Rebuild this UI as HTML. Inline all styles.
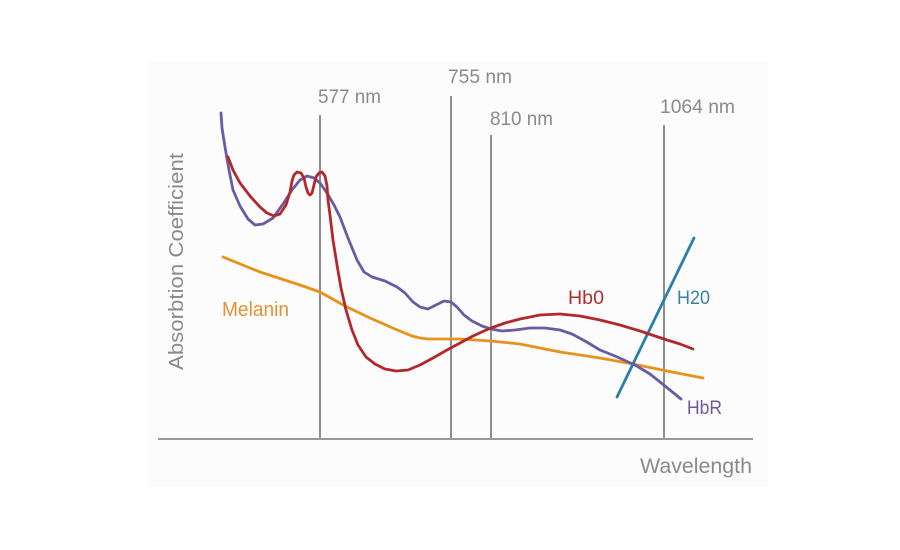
<!DOCTYPE html>
<html><head><meta charset="utf-8"><style>
html,body{margin:0;padding:0;background:#fff;}
svg{display:block;}
text{font-family:"Liberation Sans",sans-serif;}
</style></head><body>
<svg width="900" height="550" viewBox="0 0 900 550" xmlns="http://www.w3.org/2000/svg">
<rect x="0" y="0" width="900" height="550" fill="#ffffff"/>
<rect x="148" y="61" width="620" height="426" fill="#fcfcfc"/>
<!-- vertical lines -->
<g stroke="#8e8e8e" stroke-width="2">
<line x1="320" y1="115" x2="320" y2="439"/>
<line x1="451" y1="96" x2="451" y2="439"/>
<line x1="491" y1="135" x2="491" y2="439"/>
<line x1="664" y1="125" x2="664" y2="439"/>
</g>
<line x1="158" y1="439" x2="753" y2="439" stroke="#999" stroke-width="2"/>
<!-- labels -->
<g fill="#8a8a8a" font-size="19">
<text x="318" y="103" textLength="63" lengthAdjust="spacingAndGlyphs">577 nm</text>
<text x="448" y="83" textLength="64" lengthAdjust="spacingAndGlyphs">755 nm</text>
<text x="490" y="125" textLength="63" lengthAdjust="spacingAndGlyphs">810 nm</text>
<text x="660" y="113" textLength="75" lengthAdjust="spacingAndGlyphs">1064 nm</text>
<text x="640" y="473" font-size="21" textLength="112" lengthAdjust="spacingAndGlyphs">Wavelength</text>
<text transform="translate(183,370) rotate(-90)" font-size="20" textLength="217" lengthAdjust="spacingAndGlyphs">Absorbtion Coefficient</text>
</g>
<text x="222" y="316" font-size="20" fill="#e39232" textLength="67" lengthAdjust="spacingAndGlyphs">Melanin</text>
<text x="568" y="304" font-size="19" fill="#b02e2e" textLength="36" lengthAdjust="spacingAndGlyphs">Hb0</text>
<text x="677" y="304" font-size="19" fill="#3a80a2" textLength="33" lengthAdjust="spacingAndGlyphs">H20</text>
<text x="687" y="414" font-size="19" fill="#6a5a9c" textLength="35" lengthAdjust="spacingAndGlyphs">HbR</text>
<!-- curves -->
<g fill="none" stroke-width="2.8" stroke-linejoin="round" stroke-linecap="round">
<polyline stroke="#e8921e" points="223,257 260,272 300,285 320,292 345,306 370,318 395,329 412,336 420,338 428,339 460,339 491,341 520,344 560,352 600,358 633,364 667,371 703,378"/>
<polyline stroke="#2b7ea8" points="617,397 694,238"/>
<polyline stroke="#6a5ba2" points="221,113 222,128 225,147 229,170 233,190 240,206 248,219 255,225 263,224 273,218 283,204 292,190 300,180 307,176 314,178 320,183 327,193 334,205 340,217 348,238 357,260 364,272 372,277 385,281 397,287 405,293 413,302 420,307 428,309 436,305 444,301 451,302 457,307 464,315 472,321 482,326 491,329 502,331 515,330 530,328 545,328 560,330 572,334 585,341 600,350 615,356 635,365 650,374 665,386 681,399"/>
<polyline stroke="#b3282b" points="228,157 233,170 240,183 250,196 260,207 267,213 274,216 280,214 286,205 290,192 292,181 294,175 297,172 301,173 304,178 306,187 308,193 310,195 312,193 314,185 316,177 319,173 322,172 325,176 327,186 328,200 330,215 333,240 337,265 341,288 346,310 352,330 358,345 366,357 375,364 385,369 396,371 408,370 420,365 433,358 447,350 460,343 473,336 484,331 491,328 505,323 520,319 540,315 560,314 580,316 600,320 620,325 640,331 655,336 667,340 680,344 693,349"/>
</g>
</svg>
</body></html>
